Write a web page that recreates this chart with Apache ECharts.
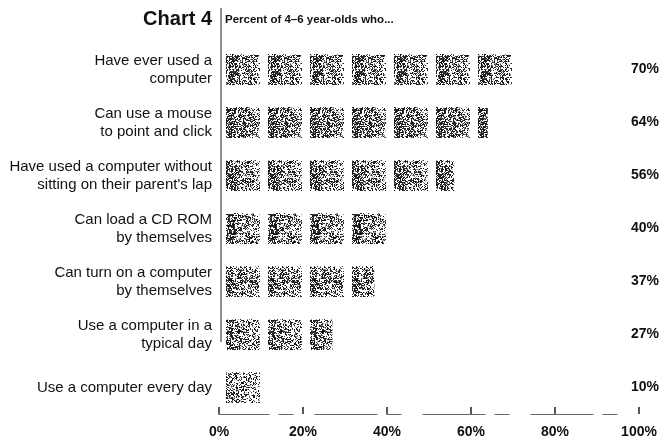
<!DOCTYPE html>
<html>
<head>
<meta charset="utf-8">
<script src="https://cdn.jsdelivr.net/npm/echarts@6/dist/echarts.min.js"></script>
<style>
html,body{margin:0;padding:0;background:#fff;}
#chart{width:664px;height:442px;}
</style>
</head>
<body>
<div id="chart"></div>
<script>
// ---- data ----
const categories = [
  'Have ever used a\ncomputer',
  'Can use a mouse\nto point and click',
  'Have used a computer without\nsitting on their parent\'s lap',
  'Can load a CD ROM\nby themselves',
  'Can turn on a computer\nby themselves',
  'Use a computer in a\ntypical day',
  'Use a computer every day'
];
const percents = [70, 64, 56, 40, 37, 27, 10];
const xTicks = [0, 20, 40, 60, 80, 100];
const titleText = 'Chart 4';
const subtitleText = 'Percent of 4\u20136 year-olds who...';

// ---- speckled scan-like texture for the blocks (decoration only) ----
function makeTexture(w, h, density, seed) {
  const c = document.createElement('canvas');
  c.width = w; c.height = h;
  const ctx = c.getContext('2d');
  ctx.fillStyle = '#ffffff';
  ctx.fillRect(0, 0, w, h);
  function hash(x, y) {
    const s = Math.sin(x * 12.9898 + y * 78.233 + seed * 37.719) * 43758.5453;
    return s - Math.floor(s);
  }
  for (let y = 0; y < h; y++) {
    for (let x = 0; x < w; x++) {
      const edge = (y === 0) ? 0.35 : 1;
      const leftBias = 1.25 - 0.6 * (x / w);
      const colBias = 0.7 + 0.6 * hash(x, 999);
      const p = density * colBias * leftBias * edge;
      const v = hash(x, y);
      if (v < p) {
        const g = Math.floor(10 + 50 * hash(y, x));
        ctx.fillStyle = 'rgb(' + g + ',' + g + ',' + g + ')';
        ctx.fillRect(x, y, 1, 1);
      } else if (v < p + 0.08) {
        ctx.fillStyle = 'rgb(150,150,150)';
        ctx.fillRect(x, y, 1, 1);
      }
    }
  }
  return c.toDataURL();
}
const textures = [0.42, 0.48, 0.44, 0.48, 0.44, 0.44, 0.38].map(function (d, i) {
  return 'image://' + makeTexture(34, 31, d, i + 1);
});

const chart = echarts.init(document.getElementById('chart'), null, {renderer: 'canvas'});
const FONT = 'Liberation Sans, Arial, Helvetica, sans-serif';

chart.setOption({
  animation: false,
  backgroundColor: '#fff',
  title: [
    {
      text: titleText,
      right: 452, top: 9, padding: 0,
      textStyle: {fontFamily: FONT, fontSize: 20, fontWeight: 'bold', color: '#111'}
    },
    {
      text: subtitleText,
      left: 225, top: 14, padding: 0,
      textStyle: {fontFamily: FONT, fontSize: 11.5, fontWeight: 'bold', color: '#111'}
    }
  ],
  grid: {left: 219, right: 25, top: 43, bottom: 28, containLabel: false},
  xAxis: {
    type: 'value',
    min: 0, max: 100, interval: 20,
    axisLine: {show: true, lineStyle: {color: '#666', width: 1.2, type: [62, 10, 14, 22], dashOffset: 12}},
    axisTick: {show: true, inside: true, length: 7, lineStyle: {color: '#222', width: 1.5}},
    splitLine: {show: false},
    axisLabel: {
      margin: 11,
      fontFamily: FONT, fontSize: 14, fontWeight: 'bold', color: '#111',
      formatter: function (v) { return v + '%'; }
    }
  },
  yAxis: [
    {
      type: 'category',
      inverse: true,
      data: categories,
      axisLine: {show: false},
      axisTick: {show: false},
      axisLabel: {
        margin: 7,
        fontFamily: FONT, fontSize: 15, lineHeight: 18, color: '#111', align: 'right'
      }
    },
    {
      type: 'category',
      inverse: true,
      position: 'right',
      data: percents.map(function (v) { return v + '%'; }),
      axisLine: {show: false},
      axisTick: {show: false},
      axisLabel: {
        margin: 20, align: 'right',
        fontFamily: FONT, fontSize: 14, fontWeight: 'bold', color: '#111'
      }
    }
  ],
  series: [
    {
      type: 'pictorialBar',
      yAxisIndex: 0,
      symbolRepeat: true,
      symbolClip: true,
      symbolBoundingData: 100,
      symbolSize: [34, 31],
      symbolMargin: '4!',
      symbolOffset: [3, 0],
      data: percents.map(function (v, i) {
        return {value: v, symbol: textures[i]};
      }),
      z: 2
    }
  ],
  graphic: [
    {
      type: 'line',
      shape: {x1: 221, y1: 8, x2: 221, y2: 342},
      style: {stroke: '#222', lineWidth: 1},
      silent: true
    }
  ]
});
</script>
</body>
</html>
